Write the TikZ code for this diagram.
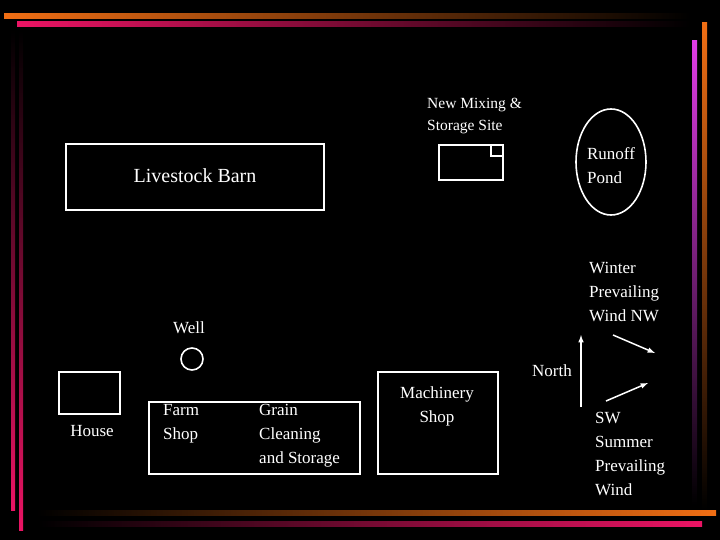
\documentclass[tikz,border=0pt]{standalone}
\usepackage{fontspec}
\usetikzlibrary{shapes.geometric}
\setmainfont{Liberation Serif}
\begin{document}
\begin{tikzpicture}[x=1pt,y=-1pt,
  box/.style={draw=white,line width=1.6pt},
  lbl/.style={text=white,font=\fontsize{17}{24}\selectfont,inner sep=0pt},
  arr/.style={draw=white,line width=1.5pt,-latex}]
\fill[black] (0,0) rectangle (720,540);
\useasboundingbox (0,0) rectangle (720,540);
\definecolor{ora}{RGB}{240,110,20}
\definecolor{pnk}{RGB}{235,20,100}
\definecolor{mag}{RGB}{225,60,230}
% decorative bars
\shade[left color=ora,right color=black] (4,14) rectangle (690,19);
\shade[left color=pnk,right color=black] (17,22) rectangle (690,27);
\shade[top color=black,bottom color=pnk] (11,30) rectangle (15,510);
\shade[top color=black,bottom color=pnk] (19,30) rectangle (23,530);
\shade[top color=mag,bottom color=black] (692,41) rectangle (697,505);
\shade[top color=ora,bottom color=black] (702,23) rectangle (707,510);
\shade[left color=black,right color=ora] (36,510) rectangle (716,515);
\shade[left color=black,right color=pnk] (38,521) rectangle (702,526);
% buildings
\node[box,minimum width=258,minimum height=66] (barn) at (195,177) {};
\node[lbl,font=\fontsize{20}{24}\selectfont] (barnt) at (195,176) {Livestock Barn};
\node[box,minimum width=64,minimum height=35] (mix) at (471,162.5) {};
\draw[box] (491,145) rectangle (503,156);
\node[lbl,align=left,anchor=west,font=\fontsize{15.5}{22}\selectfont] (mixt) at (427,116) {New Mixing \&\\Storage Site};
\node[box,ellipse,minimum width=70,minimum height=106] (pond) at (611,162) {};
\node[lbl,align=left] (pondt) at (611,166) {Runoff\\Pond};
\node[lbl,align=left,anchor=west] (wint) at (589,292) {Winter\\Prevailing\\Wind NW};
\coordinate (w1) at (613,335); \coordinate (w2) at (655,353);
\draw[arr] (w1) -- (w2);
\node[lbl] (wellt) at (189,328) {Well};
\node[box,circle,minimum size=22] (well) at (192,359) {};
\node[box,minimum width=61,minimum height=42] (house) at (89.5,393) {};
\node[lbl] (houset) at (92,431) {House};
\node[box,minimum width=211,minimum height=72] (shop) at (254.5,438) {};
\node[lbl,align=left,anchor=west] (farmt) at (163,424) {Farm\\Shop};
\node[lbl,align=left,anchor=west] (graint) at (259,436) {Grain\\Cleaning\\and Storage};
\node[box,minimum width=120,minimum height=102] (mach) at (438,423) {};
\node[lbl,align=center] (macht) at (437,406) {Machinery\\Shop};
\coordinate (n1) at (581,407); \coordinate (n2) at (581,335);
\draw[arr] (n1) -- (n2);
\node[lbl] (northt) at (552,371) {North};
\coordinate (s1) at (606,401); \coordinate (s2) at (648,383);
\draw[arr] (s1) -- (s2);
\node[lbl,align=left,anchor=west] (swt) at (595,454) {SW\\Summer\\Prevailing\\Wind};
\end{tikzpicture}
\end{document}
